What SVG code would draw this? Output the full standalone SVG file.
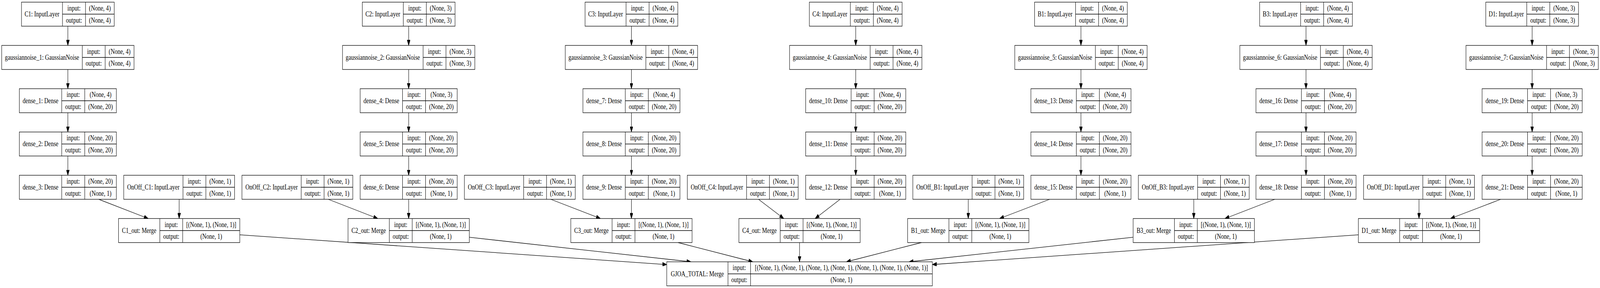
<svg xmlns="http://www.w3.org/2000/svg" width="5211" height="737" viewBox="0 0 5211 737" preserveAspectRatio="none">
<style>
svg{width:100vw;height:100vh}
.n rect{fill:#fff;stroke:#000;stroke-width:1.3}
.n path{fill:none;stroke:#000;stroke-width:1.3}
.n text{font-family:"Liberation Serif","Times New Roman",serif;font-size:18.5px;text-anchor:middle;fill:#000}
#edges path{fill:none;stroke:#000;stroke-width:1.3;marker-end:url(#ah)}
</style>
<defs>
<marker id="ah" viewBox="0 0 14 10" refX="14" refY="5" markerWidth="14" markerHeight="10" markerUnits="userSpaceOnUse" orient="auto"><path d="M0,0L14,5L0,10z" fill="#000" stroke="#000" stroke-width="1"/></marker>
</defs>
<rect x="0" y="0" width="5211" height="737" fill="#fff"/>

<g id="edges">
<path d="M221 67V116.25"/><path d="M221 177.75V227"/><path d="M221 288.5V337.75"/><path d="M221 399.25V448.5"/>
<path d="M1331 67V116.25"/><path d="M1331 177.75V227"/><path d="M1331 288.5V337.75"/><path d="M1331 399.25V448.5"/>
<path d="M2056.5 67V116.25"/><path d="M2056.5 177.75V227"/><path d="M2056.5 288.5V337.75"/><path d="M2056.5 399.25V448.5"/>
<path d="M2787 67V116.25"/><path d="M2787 177.75V227"/><path d="M2787 288.5V337.75"/><path d="M2787 399.25V448.5"/>
<path d="M3520.5 67V116.25"/><path d="M3520.5 177.75V227"/><path d="M3520.5 288.5V337.75"/><path d="M3520.5 399.25V448.5"/>
<path d="M4253.5 67V116.25"/><path d="M4253.5 177.75V227"/><path d="M4253.5 288.5V337.75"/><path d="M4253.5 399.25V448.5"/>
<path d="M4990 67V116.25"/><path d="M4990 177.75V227"/><path d="M4990 288.5V337.75"/><path d="M4990 399.25V448.5"/>
<path d="M321.65 510L482.85 559.25"/><path d="M583.5 510V559.25"/>
<path d="M1069 510L1230.3 559.25"/><path d="M1331 510V559.25"/>
<path d="M1793.9 510L1955.6 559.25"/><path d="M2056.5 510V559.25"/>
<path d="M2470.4 510L2552.6 559.25"/><path d="M2736.2 510L2654.8 559.25"/>
<path d="M3153.5 510V559.25"/><path d="M3418.6 510L3255.5 559.25"/>
<path d="M3888 510V559.25"/><path d="M4152 510L3989.5 559.25"/>
<path d="M4621.5 510V559.25"/><path d="M4887.7 510L4724 559.25"/>
<path d="M781 600.83L2171.5 677.04"/>
<path d="M1528.5 607.18L2250.55 670"/>
<path d="M2208.5 620.75L2452 670"/>
<path d="M2604 620.75V670"/>
<path d="M3001 620.75L2756.6 670"/>
<path d="M3690.5 607.04L2960.5 670"/>
<path d="M4424.2 600.84L3036.5 677.01"/>
</g>

<!-- Column C1 -->
<g id="C1" class="n"><rect x="70" y="5.5" width="302" height="61.5"/><path d="M203.5 5.5V67M278.5 5.5V67M203.5 36.25H372"/><text x="136.75" y="42.25">C1: InputLayer</text><text x="241" y="26.9">input:</text><text x="241" y="57.6">output:</text><text x="325.25" y="26.9">(None, 4)</text><text x="325.25" y="57.6">(None, 4)</text></g>
<g id="gaussiannoise_1" class="n"><rect x="5.5" y="116.25" width="431" height="61.5"/><path d="M268 116.25V177.75M342.5 116.25V177.75M268 147H436.5"/><text x="136.75" y="153">gaussiannoise_1: GaussianNoise</text><text x="305.25" y="137.65">input:</text><text x="305.25" y="168.35">output:</text><text x="389.5" y="137.65">(None, 4)</text><text x="389.5" y="168.35">(None, 4)</text></g>
<g id="dense_1" class="n"><rect x="63" y="227" width="316" height="61.5"/><path d="M201 227V288.5M276 227V288.5M201 257.75H379"/><text x="132" y="263.75">dense_1: Dense</text><text x="238.5" y="248.4">input:</text><text x="238.5" y="279.1">output:</text><text x="327.5" y="248.4">(None, 4)</text><text x="327.5" y="279.1">(None, 20)</text></g>
<g id="dense_2" class="n"><rect x="63" y="337.75" width="316" height="61.5"/><path d="M201 337.75V399.25M276 337.75V399.25M201 368.5H379"/><text x="132" y="374.5">dense_2: Dense</text><text x="238.5" y="359.15">input:</text><text x="238.5" y="389.85">output:</text><text x="327.5" y="359.15">(None, 20)</text><text x="327.5" y="389.85">(None, 20)</text></g>
<g id="dense_3" class="n"><rect x="63" y="448.5" width="316" height="61.5"/><path d="M201 448.5V510M276 448.5V510M201 479.25H379"/><text x="132" y="485.25">dense_3: Dense</text><text x="238.5" y="469.9">input:</text><text x="238.5" y="500.6">output:</text><text x="327.5" y="469.9">(None, 20)</text><text x="327.5" y="500.6">(None, 1)</text></g>
<g id="OnOff_C1" class="n"><rect x="403" y="448.5" width="361" height="61.5"/><path d="M596 448.5V510M670.5 448.5V510M596 479.25H764"/><text x="499.5" y="485.25">OnOff_C1: InputLayer</text><text x="633.25" y="469.9">input:</text><text x="633.25" y="500.6">output:</text><text x="717.25" y="469.9">(None, 1)</text><text x="717.25" y="500.6">(None, 1)</text></g>
<g id="C1_out" class="n"><rect x="386" y="559.25" width="395" height="61.5"/><path d="M520.5 559.25V620.75M595 559.25V620.75M520.5 590H781"/><text x="453.25" y="596">C1_out: Merge</text><text x="557.75" y="580.65">input:</text><text x="557.75" y="611.35">output:</text><text x="688" y="580.65">[(None, 1), (None, 1)]</text><text x="688" y="611.35">(None, 1)</text></g>

<!-- Column C2 -->
<g id="C2" class="n"><rect x="1180" y="5.5" width="302" height="61.5"/><path d="M1313.5 5.5V67M1388.5 5.5V67M1313.5 36.25H1482"/><text x="1246.75" y="42.25">C2: InputLayer</text><text x="1351" y="26.9">input:</text><text x="1351" y="57.6">output:</text><text x="1435.25" y="26.9">(None, 3)</text><text x="1435.25" y="57.6">(None, 3)</text></g>
<g id="gaussiannoise_2" class="n"><rect x="1115.5" y="116.25" width="431" height="61.5"/><path d="M1378 116.25V177.75M1452.5 116.25V177.75M1378 147H1546.5"/><text x="1246.75" y="153">gaussiannoise_2: GaussianNoise</text><text x="1415.25" y="137.65">input:</text><text x="1415.25" y="168.35">output:</text><text x="1499.5" y="137.65">(None, 3)</text><text x="1499.5" y="168.35">(None, 3)</text></g>
<g id="dense_4" class="n"><rect x="1173" y="227" width="316" height="61.5"/><path d="M1311 227V288.5M1386 227V288.5M1311 257.75H1489"/><text x="1242" y="263.75">dense_4: Dense</text><text x="1348.5" y="248.4">input:</text><text x="1348.5" y="279.1">output:</text><text x="1437.5" y="248.4">(None, 3)</text><text x="1437.5" y="279.1">(None, 20)</text></g>
<g id="dense_5" class="n"><rect x="1173" y="337.75" width="316" height="61.5"/><path d="M1311 337.75V399.25M1386 337.75V399.25M1311 368.5H1489"/><text x="1242" y="374.5">dense_5: Dense</text><text x="1348.5" y="359.15">input:</text><text x="1348.5" y="389.85">output:</text><text x="1437.5" y="359.15">(None, 20)</text><text x="1437.5" y="389.85">(None, 20)</text></g>
<g id="dense_6" class="n"><rect x="1173" y="448.5" width="316" height="61.5"/><path d="M1311 448.5V510M1386 448.5V510M1311 479.25H1489"/><text x="1242" y="485.25">dense_6: Dense</text><text x="1348.5" y="469.9">input:</text><text x="1348.5" y="500.6">output:</text><text x="1437.5" y="469.9">(None, 20)</text><text x="1437.5" y="500.6">(None, 1)</text></g>
<g id="OnOff_C2" class="n"><rect x="788" y="448.5" width="361" height="61.5"/><path d="M981 448.5V510M1055.5 448.5V510M981 479.25H1149"/><text x="884.5" y="485.25">OnOff_C2: InputLayer</text><text x="1018.25" y="469.9">input:</text><text x="1018.25" y="500.6">output:</text><text x="1102.25" y="469.9">(None, 1)</text><text x="1102.25" y="500.6">(None, 1)</text></g>
<g id="C2_out" class="n"><rect x="1133.5" y="559.25" width="395" height="61.5"/><path d="M1268 559.25V620.75M1342.5 559.25V620.75M1268 590H1528.5"/><text x="1200.75" y="596">C2_out: Merge</text><text x="1305.25" y="580.65">input:</text><text x="1305.25" y="611.35">output:</text><text x="1435.5" y="580.65">[(None, 1), (None, 1)]</text><text x="1435.5" y="611.35">(None, 1)</text></g>

<!-- Column C3 -->
<g id="C3" class="n"><rect x="1905.5" y="5.5" width="302" height="61.5"/><path d="M2039 5.5V67M2114 5.5V67M2039 36.25H2207.5"/><text x="1972.25" y="42.25">C3: InputLayer</text><text x="2076.5" y="26.9">input:</text><text x="2076.5" y="57.6">output:</text><text x="2160.75" y="26.9">(None, 4)</text><text x="2160.75" y="57.6">(None, 4)</text></g>
<g id="gaussiannoise_3" class="n"><rect x="1841" y="116.25" width="431" height="61.5"/><path d="M2103.5 116.25V177.75M2178 116.25V177.75M2103.5 147H2272"/><text x="1972.25" y="153">gaussiannoise_3: GaussianNoise</text><text x="2140.75" y="137.65">input:</text><text x="2140.75" y="168.35">output:</text><text x="2225" y="137.65">(None, 4)</text><text x="2225" y="168.35">(None, 4)</text></g>
<g id="dense_7" class="n"><rect x="1898.5" y="227" width="316" height="61.5"/><path d="M2036.5 227V288.5M2111.5 227V288.5M2036.5 257.75H2214.5"/><text x="1967.5" y="263.75">dense_7: Dense</text><text x="2074" y="248.4">input:</text><text x="2074" y="279.1">output:</text><text x="2163" y="248.4">(None, 4)</text><text x="2163" y="279.1">(None, 20)</text></g>
<g id="dense_8" class="n"><rect x="1898.5" y="337.75" width="316" height="61.5"/><path d="M2036.5 337.75V399.25M2111.5 337.75V399.25M2036.5 368.5H2214.5"/><text x="1967.5" y="374.5">dense_8: Dense</text><text x="2074" y="359.15">input:</text><text x="2074" y="389.85">output:</text><text x="2163" y="359.15">(None, 20)</text><text x="2163" y="389.85">(None, 20)</text></g>
<g id="dense_9" class="n"><rect x="1898.5" y="448.5" width="316" height="61.5"/><path d="M2036.5 448.5V510M2111.5 448.5V510M2036.5 479.25H2214.5"/><text x="1967.5" y="485.25">dense_9: Dense</text><text x="2074" y="469.9">input:</text><text x="2074" y="500.6">output:</text><text x="2163" y="469.9">(None, 20)</text><text x="2163" y="500.6">(None, 1)</text></g>
<g id="OnOff_C3" class="n"><rect x="1512.5" y="448.5" width="361" height="61.5"/><path d="M1705.5 448.5V510M1780 448.5V510M1705.5 479.25H1873.5"/><text x="1609" y="485.25">OnOff_C3: InputLayer</text><text x="1742.75" y="469.9">input:</text><text x="1742.75" y="500.6">output:</text><text x="1826.75" y="469.9">(None, 1)</text><text x="1826.75" y="500.6">(None, 1)</text></g>
<g id="C3_out" class="n"><rect x="1859" y="559.25" width="395" height="61.5"/><path d="M1993.5 559.25V620.75M2068 559.25V620.75M1993.5 590H2254"/><text x="1926.25" y="596">C3_out: Merge</text><text x="2030.75" y="580.65">input:</text><text x="2030.75" y="611.35">output:</text><text x="2161" y="580.65">[(None, 1), (None, 1)]</text><text x="2161" y="611.35">(None, 1)</text></g>

<!-- Column C4 -->
<g id="C4" class="n"><rect x="2636" y="5.5" width="302" height="61.5"/><path d="M2769.5 5.5V67M2844.5 5.5V67M2769.5 36.25H2938"/><text x="2702.75" y="42.25">C4: InputLayer</text><text x="2807" y="26.9">input:</text><text x="2807" y="57.6">output:</text><text x="2891.25" y="26.9">(None, 4)</text><text x="2891.25" y="57.6">(None, 4)</text></g>
<g id="gaussiannoise_4" class="n"><rect x="2571.5" y="116.25" width="431" height="61.5"/><path d="M2834 116.25V177.75M2908.5 116.25V177.75M2834 147H3002.5"/><text x="2702.75" y="153">gaussiannoise_4: GaussianNoise</text><text x="2871.25" y="137.65">input:</text><text x="2871.25" y="168.35">output:</text><text x="2955.5" y="137.65">(None, 4)</text><text x="2955.5" y="168.35">(None, 4)</text></g>
<g id="dense_10" class="n"><rect x="2624" y="227" width="326" height="61.5"/><path d="M2772 227V288.5M2847 227V288.5M2772 257.75H2950"/><text x="2698" y="263.75">dense_10: Dense</text><text x="2809.5" y="248.4">input:</text><text x="2809.5" y="279.1">output:</text><text x="2898.5" y="248.4">(None, 4)</text><text x="2898.5" y="279.1">(None, 20)</text></g>
<g id="dense_11" class="n"><rect x="2624" y="337.75" width="326" height="61.5"/><path d="M2772 337.75V399.25M2847 337.75V399.25M2772 368.5H2950"/><text x="2698" y="374.5">dense_11: Dense</text><text x="2809.5" y="359.15">input:</text><text x="2809.5" y="389.85">output:</text><text x="2898.5" y="359.15">(None, 20)</text><text x="2898.5" y="389.85">(None, 20)</text></g>
<g id="dense_12" class="n"><rect x="2624" y="448.5" width="326" height="61.5"/><path d="M2772 448.5V510M2847 448.5V510M2772 479.25H2950"/><text x="2698" y="485.25">dense_12: Dense</text><text x="2809.5" y="469.9">input:</text><text x="2809.5" y="500.6">output:</text><text x="2898.5" y="469.9">(None, 20)</text><text x="2898.5" y="500.6">(None, 1)</text></g>
<g id="OnOff_C4" class="n"><rect x="2238.5" y="448.5" width="361" height="61.5"/><path d="M2431.5 448.5V510M2506 448.5V510M2431.5 479.25H2599.5"/><text x="2335" y="485.25">OnOff_C4: InputLayer</text><text x="2468.75" y="469.9">input:</text><text x="2468.75" y="500.6">output:</text><text x="2552.75" y="469.9">(None, 1)</text><text x="2552.75" y="500.6">(None, 1)</text></g>
<g id="C4_out" class="n"><rect x="2406.5" y="559.25" width="395" height="61.5"/><path d="M2541 559.25V620.75M2615.5 559.25V620.75M2541 590H2801.5"/><text x="2473.75" y="596">C4_out: Merge</text><text x="2578.25" y="580.65">input:</text><text x="2578.25" y="611.35">output:</text><text x="2708.5" y="580.65">[(None, 1), (None, 1)]</text><text x="2708.5" y="611.35">(None, 1)</text></g>

<!-- Column B1 -->
<g id="B1" class="n"><rect x="3369.5" y="5.5" width="302" height="61.5"/><path d="M3503 5.5V67M3578 5.5V67M3503 36.25H3671.5"/><text x="3436.25" y="42.25">B1: InputLayer</text><text x="3540.5" y="26.9">input:</text><text x="3540.5" y="57.6">output:</text><text x="3624.75" y="26.9">(None, 4)</text><text x="3624.75" y="57.6">(None, 4)</text></g>
<g id="gaussiannoise_5" class="n"><rect x="3305" y="116.25" width="431" height="61.5"/><path d="M3567.5 116.25V177.75M3642 116.25V177.75M3567.5 147H3736"/><text x="3436.25" y="153">gaussiannoise_5: GaussianNoise</text><text x="3604.75" y="137.65">input:</text><text x="3604.75" y="168.35">output:</text><text x="3689" y="137.65">(None, 4)</text><text x="3689" y="168.35">(None, 4)</text></g>
<g id="dense_13" class="n"><rect x="3357.5" y="227" width="326" height="61.5"/><path d="M3505.5 227V288.5M3580.5 227V288.5M3505.5 257.75H3683.5"/><text x="3431.5" y="263.75">dense_13: Dense</text><text x="3543" y="248.4">input:</text><text x="3543" y="279.1">output:</text><text x="3632" y="248.4">(None, 4)</text><text x="3632" y="279.1">(None, 20)</text></g>
<g id="dense_14" class="n"><rect x="3357.5" y="337.75" width="326" height="61.5"/><path d="M3505.5 337.75V399.25M3580.5 337.75V399.25M3505.5 368.5H3683.5"/><text x="3431.5" y="374.5">dense_14: Dense</text><text x="3543" y="359.15">input:</text><text x="3543" y="389.85">output:</text><text x="3632" y="359.15">(None, 20)</text><text x="3632" y="389.85">(None, 20)</text></g>
<g id="dense_15" class="n"><rect x="3357.5" y="448.5" width="326" height="61.5"/><path d="M3505.5 448.5V510M3580.5 448.5V510M3505.5 479.25H3683.5"/><text x="3431.5" y="485.25">dense_15: Dense</text><text x="3543" y="469.9">input:</text><text x="3543" y="500.6">output:</text><text x="3632" y="469.9">(None, 20)</text><text x="3632" y="500.6">(None, 1)</text></g>
<g id="OnOff_B1" class="n"><rect x="2973" y="448.5" width="361" height="61.5"/><path d="M3166 448.5V510M3240.5 448.5V510M3166 479.25H3334"/><text x="3069.5" y="485.25">OnOff_B1: InputLayer</text><text x="3203.25" y="469.9">input:</text><text x="3203.25" y="500.6">output:</text><text x="3287.25" y="469.9">(None, 1)</text><text x="3287.25" y="500.6">(None, 1)</text></g>
<g id="B1_out" class="n"><rect x="2956" y="559.25" width="395" height="61.5"/><path d="M3090.5 559.25V620.75M3165 559.25V620.75M3090.5 590H3351"/><text x="3023.25" y="596">B1_out: Merge</text><text x="3127.75" y="580.65">input:</text><text x="3127.75" y="611.35">output:</text><text x="3258" y="580.65">[(None, 1), (None, 1)]</text><text x="3258" y="611.35">(None, 1)</text></g>

<!-- Column B3 -->
<g id="B3" class="n"><rect x="4102.5" y="5.5" width="302" height="61.5"/><path d="M4236 5.5V67M4311 5.5V67M4236 36.25H4404.5"/><text x="4169.25" y="42.25">B3: InputLayer</text><text x="4273.5" y="26.9">input:</text><text x="4273.5" y="57.6">output:</text><text x="4357.75" y="26.9">(None, 4)</text><text x="4357.75" y="57.6">(None, 4)</text></g>
<g id="gaussiannoise_6" class="n"><rect x="4038" y="116.25" width="431" height="61.5"/><path d="M4300.5 116.25V177.75M4375 116.25V177.75M4300.5 147H4469"/><text x="4169.25" y="153">gaussiannoise_6: GaussianNoise</text><text x="4337.75" y="137.65">input:</text><text x="4337.75" y="168.35">output:</text><text x="4422" y="137.65">(None, 4)</text><text x="4422" y="168.35">(None, 4)</text></g>
<g id="dense_16" class="n"><rect x="4090.5" y="227" width="326" height="61.5"/><path d="M4238.5 227V288.5M4313.5 227V288.5M4238.5 257.75H4416.5"/><text x="4164.5" y="263.75">dense_16: Dense</text><text x="4276" y="248.4">input:</text><text x="4276" y="279.1">output:</text><text x="4365" y="248.4">(None, 4)</text><text x="4365" y="279.1">(None, 20)</text></g>
<g id="dense_17" class="n"><rect x="4090.5" y="337.75" width="326" height="61.5"/><path d="M4238.5 337.75V399.25M4313.5 337.75V399.25M4238.5 368.5H4416.5"/><text x="4164.5" y="374.5">dense_17: Dense</text><text x="4276" y="359.15">input:</text><text x="4276" y="389.85">output:</text><text x="4365" y="359.15">(None, 20)</text><text x="4365" y="389.85">(None, 20)</text></g>
<g id="dense_18" class="n"><rect x="4090.5" y="448.5" width="326" height="61.5"/><path d="M4238.5 448.5V510M4313.5 448.5V510M4238.5 479.25H4416.5"/><text x="4164.5" y="485.25">dense_18: Dense</text><text x="4276" y="469.9">input:</text><text x="4276" y="500.6">output:</text><text x="4365" y="469.9">(None, 20)</text><text x="4365" y="500.6">(None, 1)</text></g>
<g id="OnOff_B3" class="n"><rect x="3707.5" y="448.5" width="361" height="61.5"/><path d="M3900.5 448.5V510M3975 448.5V510M3900.5 479.25H4068.5"/><text x="3804" y="485.25">OnOff_B3: InputLayer</text><text x="3937.75" y="469.9">input:</text><text x="3937.75" y="500.6">output:</text><text x="4021.75" y="469.9">(None, 1)</text><text x="4021.75" y="500.6">(None, 1)</text></g>
<g id="B3_out" class="n"><rect x="3690.5" y="559.25" width="395" height="61.5"/><path d="M3825 559.25V620.75M3899.5 559.25V620.75M3825 590H4085.5"/><text x="3757.75" y="596">B3_out: Merge</text><text x="3862.25" y="580.65">input:</text><text x="3862.25" y="611.35">output:</text><text x="3992.5" y="580.65">[(None, 1), (None, 1)]</text><text x="3992.5" y="611.35">(None, 1)</text></g>

<!-- Column D1 -->
<g id="D1" class="n"><rect x="4839" y="5.5" width="302" height="61.5"/><path d="M4972.5 5.5V67M5047.5 5.5V67M4972.5 36.25H5141"/><text x="4905.75" y="42.25">D1: InputLayer</text><text x="5010" y="26.9">input:</text><text x="5010" y="57.6">output:</text><text x="5094.25" y="26.9">(None, 3)</text><text x="5094.25" y="57.6">(None, 3)</text></g>
<g id="gaussiannoise_7" class="n"><rect x="4774.5" y="116.25" width="431" height="61.5"/><path d="M5037 116.25V177.75M5111.5 116.25V177.75M5037 147H5205.5"/><text x="4905.75" y="153">gaussiannoise_7: GaussianNoise</text><text x="5074.25" y="137.65">input:</text><text x="5074.25" y="168.35">output:</text><text x="5158.5" y="137.65">(None, 3)</text><text x="5158.5" y="168.35">(None, 3)</text></g>
<g id="dense_19" class="n"><rect x="4827" y="227" width="326" height="61.5"/><path d="M4975 227V288.5M5050 227V288.5M4975 257.75H5153"/><text x="4901" y="263.75">dense_19: Dense</text><text x="5012.5" y="248.4">input:</text><text x="5012.5" y="279.1">output:</text><text x="5101.5" y="248.4">(None, 3)</text><text x="5101.5" y="279.1">(None, 20)</text></g>
<g id="dense_20" class="n"><rect x="4827" y="337.75" width="326" height="61.5"/><path d="M4975 337.75V399.25M5050 337.75V399.25M4975 368.5H5153"/><text x="4901" y="374.5">dense_20: Dense</text><text x="5012.5" y="359.15">input:</text><text x="5012.5" y="389.85">output:</text><text x="5101.5" y="359.15">(None, 20)</text><text x="5101.5" y="389.85">(None, 20)</text></g>
<g id="dense_21" class="n"><rect x="4827" y="448.5" width="326" height="61.5"/><path d="M4975 448.5V510M5050 448.5V510M4975 479.25H5153"/><text x="4901" y="485.25">dense_21: Dense</text><text x="5012.5" y="469.9">input:</text><text x="5012.5" y="500.6">output:</text><text x="5101.5" y="469.9">(None, 20)</text><text x="5101.5" y="500.6">(None, 1)</text></g>
<g id="OnOff_D1" class="n"><rect x="4441" y="448.5" width="361" height="61.5"/><path d="M4634 448.5V510M4708.5 448.5V510M4634 479.25H4802"/><text x="4537.5" y="485.25">OnOff_D1: InputLayer</text><text x="4671.25" y="469.9">input:</text><text x="4671.25" y="500.6">output:</text><text x="4755.25" y="469.9">(None, 1)</text><text x="4755.25" y="500.6">(None, 1)</text></g>
<g id="D1_out" class="n"><rect x="4424" y="559.25" width="395" height="61.5"/><path d="M4558.5 559.25V620.75M4633 559.25V620.75M4558.5 590H4819"/><text x="4491.25" y="596">D1_out: Merge</text><text x="4595.75" y="580.65">input:</text><text x="4595.75" y="611.35">output:</text><text x="4726" y="580.65">[(None, 1), (None, 1)]</text><text x="4726" y="611.35">(None, 1)</text></g>

<!-- Total -->
<g id="GJOA_TOTAL" class="n"><rect x="2171.5" y="670" width="865" height="61.5"/><path d="M2371 670V731.5M2444.5 670V731.5M2371 700.75H3036.5"/><text x="2271.25" y="706.75">GJOA_TOTAL: Merge</text><text x="2407.75" y="691.4">input:</text><text x="2407.75" y="722.1">output:</text><text x="2740.5" y="691.4">[(None, 1), (None, 1), (None, 1), (None, 1), (None, 1), (None, 1), (None, 1)]</text><text x="2740.5" y="722.1">(None, 1)</text></g>
</svg>
